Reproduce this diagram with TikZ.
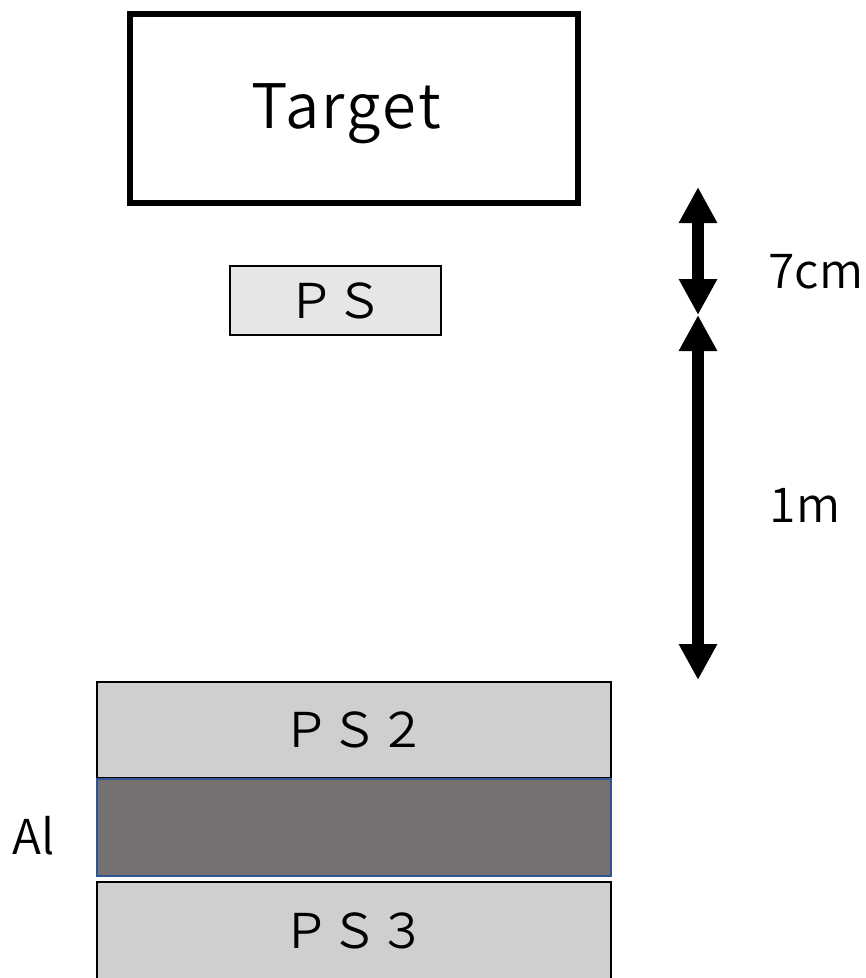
\documentclass[tikz,border=0pt]{standalone}
\usepackage{fontspec}
\setmainfont{Noto Sans CJK JP DemiLight}
\usetikzlibrary{arrows.meta}
\definecolor{psfill}{HTML}{E7E6E6}
\definecolor{ps2fill}{HTML}{D0CECE}
\definecolor{alfill}{HTML}{767171}
\definecolor{alline}{HTML}{2F5597}
\tikzset{
  box/.style={draw=black, rectangle, inner sep=0pt, font=\fontsize{36}{40}\selectfont},
  dimarrow/.style={line width=9pt, {Triangle[width=27pt,length=27pt]}-{Triangle[width=27pt,length=27pt]}},
  lbl/.style={inner sep=0pt, font=\fontsize{36}{40}\selectfont}
}
\begin{document}
\begin{tikzpicture}[x=0.75pt,y=-0.75pt]
\useasboundingbox (0,0) rectangle (866,978);
% Target
\node[box, line width=4.5pt, minimum width=336pt, minimum height=141.75pt,
      text height=33.7pt, text depth=3.8pt,
      font=\fontsize{46}{52}\selectfont\addfontfeature{LetterSpace=4}] (target) at (354,108.5) {Target\hspace*{12pt}};
% PS
\node[box, fill=psfill, line width=1.1pt, minimum width=158.25pt, minimum height=51.75pt] (ps) at (335.5,300.5) {ＰＳ};
% PS2
\node[box, fill=ps2fill, line width=1.5pt, minimum width=385.5pt, minimum height=72pt] (ps2) at (354,730) {ＰＳ２};
% Al
\node[box, draw=alline, fill=alfill, line width=1.5pt, minimum width=385.5pt, minimum height=72.75pt] (al) at (354,827.5) {};
% PS3
\node[box, fill=ps2fill, line width=1.5pt, minimum width=385.5pt, minimum height=72.75pt] (ps3) at (354,930.5) {ＰＳ３};
% arrows
\coordinate (a1) at (698,187);
\coordinate (a2) at (698,315);
\coordinate (a3) at (698,680);
\draw[dimarrow] (a1) -- (a2);
\draw[dimarrow] (a2) -- (a3);
% labels
\node[lbl] (l7) at (816,272) {7cm};
\node[lbl] (l1) at (805,505) {1m};
\node[lbl] (lal) at (34,836) {Al};
\end{tikzpicture}
\end{document}
